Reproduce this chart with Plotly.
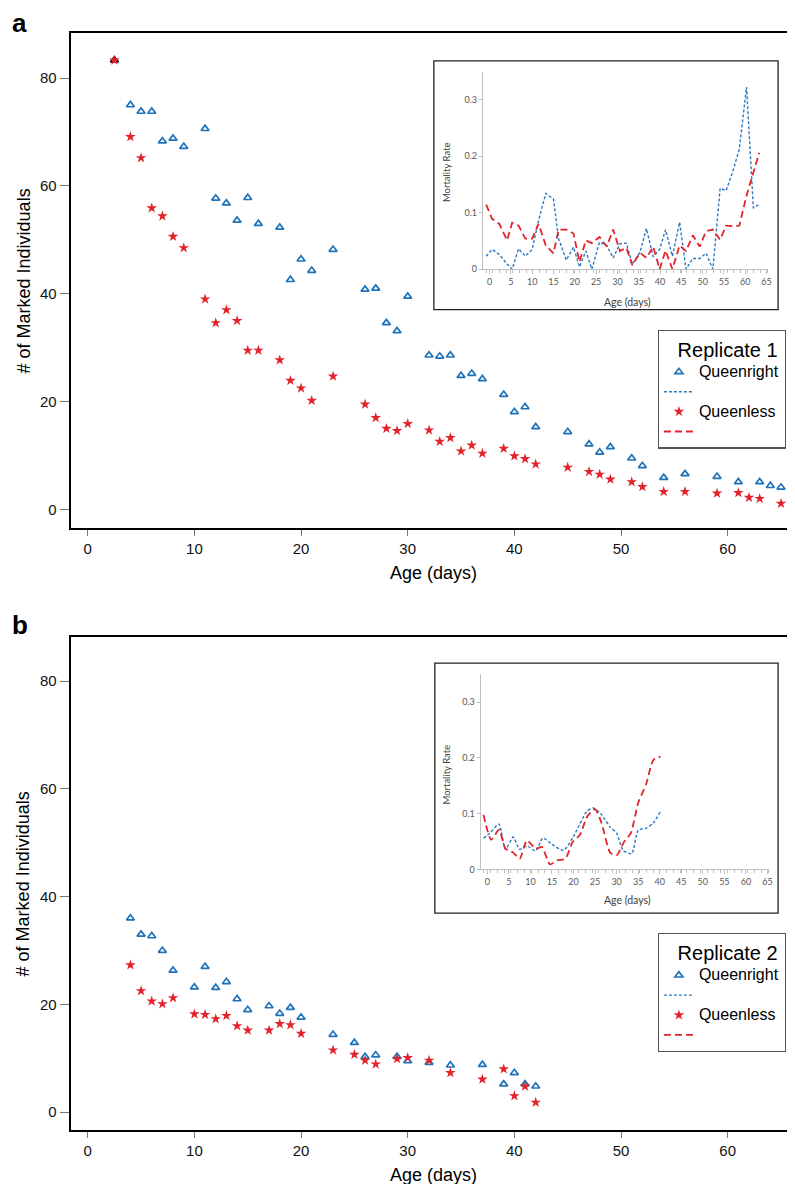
import plotly.graph_objects as go

# ---------------- DATA ----------------
# Panel a (Replicate 1): number of marked individuals by age
qr_a_age = [2.5, 4, 5, 6, 7, 8, 9, 11, 12, 13, 14, 15, 16, 18, 19, 20, 21, 23, 26, 27, 28, 29, 30,
            32, 33, 34, 35, 36, 37, 39, 40, 41, 42, 45, 47, 48, 49, 51, 52, 54, 56, 59, 61, 63, 64, 65]
qr_a_n = [83.3, 75.0, 73.8, 73.8, 68.3, 68.8, 67.3, 70.6, 57.7, 56.8, 53.6, 57.8, 53.0, 52.3, 42.6, 46.4,
          44.3, 48.2, 40.8, 41.0, 34.6, 33.1, 39.5, 28.6, 28.4, 28.6, 24.8, 25.2, 24.2, 21.3, 18.1, 19.0,
          15.3, 14.4, 12.1, 10.6, 11.6, 9.5, 8.1, 5.9, 6.6, 6.1, 5.1, 5.1, 4.4, 4.1]
ql_a_age = [2.5, 4, 5, 6, 7, 8, 9, 11, 12, 13, 14, 15, 16, 18, 19, 20, 21, 23, 26, 27, 28, 29, 30,
            32, 33, 34, 35, 36, 37, 39, 40, 41, 42, 45, 47, 48, 49, 51, 52, 54, 56, 59, 61, 62, 63, 65]
ql_a_n = [83.3, 69.1, 65.2, 55.9, 54.4, 50.6, 48.5, 39.0, 34.6, 37.0, 35.0, 29.5, 29.5, 27.7, 23.9, 22.5,
          20.2, 24.7, 19.5, 17.0, 15.0, 14.6, 15.9, 14.7, 12.6, 13.3, 10.8, 11.9, 10.4, 11.3, 9.9, 9.4,
          8.4, 7.8, 7.0, 6.5, 5.6, 5.1, 4.2, 3.3, 3.3, 3.0, 3.1, 2.2, 2.0, 1.1]

# Panel b (Replicate 2)
qr_b_age = [4, 5, 6, 7, 8, 10, 11, 12, 13, 14, 15, 17, 18, 19, 20, 23, 25, 26, 27, 29, 30, 32, 34, 37, 39, 40, 41, 42]
qr_b_n = [36.0, 33.0, 32.7, 30.0, 26.3, 23.2, 27.0, 23.1, 24.2, 21.0, 19.0, 19.7, 18.3, 19.4, 17.6, 14.4,
          12.9, 10.3, 10.6, 10.3, 9.5, 9.2, 8.7, 8.8, 5.2, 7.3, 5.2, 4.8]
ql_b_age = [4, 5, 6, 7, 8, 10, 11, 12, 13, 14, 15, 17, 18, 19, 20, 23, 25, 26, 27, 29, 30, 32, 34, 37, 39, 40, 41, 42]
ql_b_n = [27.3, 22.5, 20.6, 20.1, 21.2, 18.2, 18.1, 17.3, 17.9, 16.0, 15.2, 15.2, 16.4, 16.2, 14.6, 11.5,
          10.7, 9.6, 8.9, 9.9, 10.1, 9.6, 7.3, 6.1, 8.0, 3.0, 4.8, 1.8]

# Inset a: mortality rate by age
inset_a_age = [-0.8, 0.6, 2.3, 4.1, 5.3, 6.8, 8.4, 10.0, 11.5, 13.2, 15.0, 16.2, 18.0, 19.7, 21.1, 22.6,
               24.0, 25.8, 27.5, 29.0, 30.6, 32.1, 33.5, 35.3, 36.8, 38.4, 39.9, 41.3, 42.9, 44.6, 46.1,
               47.7, 49.3, 50.8, 52.4, 54.1, 55.5, 57.0, 58.6, 60.3, 61.9, 63.3]
inset_a_qr = [0.023, 0.035, 0.026, 0.009, 0.0, 0.036, 0.023, 0.035, 0.086, 0.134, 0.124, 0.054, 0.016,
              0.039, 0.004, 0.032, 0.0, 0.048, 0.042, 0.020, 0.045, 0.046, 0.009, 0.030, 0.072, 0.022,
              0.035, 0.070, 0.023, 0.083, 0.0, 0.019, 0.019, 0.028, 0.0, 0.143, 0.139, 0.171, 0.212,
              0.322, 0.108, 0.115]
inset_a_ql = [0.114, 0.089, 0.080, 0.051, 0.082, 0.077, 0.054, 0.054, 0.080, 0.042, 0.028, 0.070, 0.070,
              0.063, 0.013, 0.051, 0.046, 0.057, 0.040, 0.070, 0.032, 0.038, 0.007, 0.029, 0.020, 0.040,
              0.0, 0.033, 0.0, 0.042, 0.032, 0.060, 0.040, 0.067, 0.070, 0.052, 0.077, 0.076, 0.077,
              0.130, 0.171, 0.206]

# Inset b
inset_b_qr_age = [-0.9, 0.6, 2.7, 4.2, 6.0, 7.5, 9.2, 11.2, 12.9, 15.0, 17.7, 20.0, 23.1, 24.6, 26.5,
                  28.5, 30.0, 31.5, 33.5, 35.0, 36.9, 38.5, 40.2]
inset_b_qr = [0.056, 0.065, 0.081, 0.036, 0.058, 0.036, 0.042, 0.033, 0.056, 0.045, 0.034, 0.059, 0.104,
              0.110, 0.098, 0.076, 0.065, 0.034, 0.028, 0.070, 0.074, 0.083, 0.104]
inset_b_ql_age = [-0.9, 0.9, 2.7, 4.2, 6.0, 7.5, 9.2, 11.2, 12.7, 14.5, 16.2, 18.1, 19.8, 21.5, 23.2,
                  25.0, 26.5, 28.5, 30.0, 31.7, 33.3, 35.0, 36.9, 38.5, 40.2]
inset_b_ql = [0.098, 0.053, 0.071, 0.037, 0.030, 0.019, 0.052, 0.037, 0.040, 0.009, 0.016, 0.019, 0.049,
              0.062, 0.095, 0.108, 0.083, 0.030, 0.025, 0.049, 0.065, 0.119, 0.154, 0.196, 0.202]

main_x_ticks = [0, 10, 20, 30, 40, 50, 60]
main_y_ticks = [0, 20, 40, 60, 80]
inset_x_ticks = [0, 5, 10, 15, 20, 25, 30, 35, 40, 45, 50, 55, 60, 65]
inset_y_ticks = [0, 0.1, 0.2, 0.3]
inset_y_labels = ["0", "0.1", "0.2", "0.3"]

# ---------------- STYLE ----------------
W, H = 795, 1184
BLUE = "#1f72b8"
RED = "#e3232b"
BLUE_LINE = "#2f78c0"
RED_LINE = "#e3232b"
FONT = "Liberation Sans, Arial, Helvetica, sans-serif"
IFONT = "Lato, Open Sans, sans-serif"


def fx(p):
    return p / W


def fy(p):
    return 1 - p / H


def big(t):
    return '<span style="font-size:16px">%s</span>' % t


fig = go.Figure()

tri = dict(symbol="triangle-up-open", size=7, color=BLUE, line=dict(width=1.7, color=BLUE))
star = dict(symbol="star", size=8, color=RED, line=dict(width=0))

# Panel a markers
fig.add_trace(go.Scatter(x=qr_a_age[1:], y=qr_a_n[1:], mode="markers", marker=tri, name=big("Queenright"),
                         xaxis="x", yaxis="y", legend="legend", legendrank=1))
fig.add_trace(go.Scatter(x=qr_a_age[:1], y=qr_a_n[:1], mode="markers",
                         marker=dict(symbol="triangle-up-open", size=7, color="black", line=dict(width=1.7, color="black")),
                         showlegend=False, xaxis="x", yaxis="y"))
fig.add_trace(go.Scatter(x=ql_a_age, y=ql_a_n, mode="markers", marker=star, name=big("Queenless"),
                         xaxis="x", yaxis="y", legend="legend", legendrank=3))

# Panel b markers
fig.add_trace(go.Scatter(x=qr_b_age, y=qr_b_n, mode="markers", marker=tri, name=big("Queenright"),
                         xaxis="x2", yaxis="y2", legend="legend2", legendrank=1))
fig.add_trace(go.Scatter(x=ql_b_age, y=ql_b_n, mode="markers", marker=star, name=big("Queenless"),
                         xaxis="x2", yaxis="y2", legend="legend2", legendrank=3))

# Inset a lines
fig.add_trace(go.Scatter(x=inset_a_age, y=inset_a_qr, mode="lines", name=" ",
                         line=dict(color=BLUE_LINE, width=1.4, dash="3px,2px"),
                         xaxis="x3", yaxis="y3", legend="legend", legendrank=2))
fig.add_trace(go.Scatter(x=inset_a_age, y=inset_a_ql, mode="lines", name="  ",
                         line=dict(color=RED_LINE, width=1.8, dash="7px,4px"),
                         xaxis="x3", yaxis="y3", legend="legend", legendrank=4))
# Inset b lines
fig.add_trace(go.Scatter(x=inset_b_qr_age, y=inset_b_qr, mode="lines", name=" ",
                         line=dict(color=BLUE_LINE, width=1.4, dash="3px,2px", shape="spline", smoothing=0.6),
                         xaxis="x4", yaxis="y4", legend="legend2", legendrank=2))
fig.add_trace(go.Scatter(x=inset_b_ql_age, y=inset_b_ql, mode="lines", name="  ",
                         line=dict(color=RED_LINE, width=1.8, dash="7px,4px", shape="spline", smoothing=0.6),
                         xaxis="x4", yaxis="y4", legend="legend2", legendrank=4))

main_ax = dict(showgrid=False, zeroline=False, showline=True, mirror=True, linecolor="black", linewidth=2,
               ticks="outside", tickwidth=1, tickcolor="#777",
               tickfont=dict(family=FONT, size=15, color="#111"))
xa = dict(main_ax, range=[-1.6, 66.5], tickvals=main_x_ticks, ticklen=6)
ya = dict(main_ax, range=[-3.4, 88.3], tickvals=main_y_ticks, ticklen=9)

inset_x = dict(showgrid=False, zeroline=False, showline=True, linecolor="#c0c0c0", linewidth=1,
               range=[-1.56, 65.3], tickvals=inset_x_ticks, ticks="outside", ticklen=4, tickcolor="#c0c0c0",
               tickfont=dict(family=IFONT, size=9, color="#595959"),
               minor=dict(ticks="outside", ticklen=2.5, tickcolor="#c0c0c0", tick0=-0.8, dtick=1.57))
inset_y = dict(showgrid=False, zeroline=False, showline=True, linecolor="#c0c0c0", linewidth=1,
               range=[0, 0.349], tickvals=inset_y_ticks, ticktext=inset_y_labels, ticks="outside", ticklen=3,
               tickcolor="#c0c0c0", tickfont=dict(family=IFONT, size=9, color="#595959"))

legend_common = dict(bgcolor="white", bordercolor="#555", borderwidth=1.2,
                     font=dict(family=FONT, size=13, color="black"), tracegroupgap=0,
                     xanchor="left", yanchor="top", traceorder="normal", itemwidth=30)

fig.update_layout(
    width=W, height=H, margin=dict(l=0, r=0, t=0, b=0),
    paper_bgcolor="white", plot_bgcolor="white",
    xaxis=dict(xa, domain=[fx(63), fx(793)], anchor="y"),
    yaxis=dict(ya, domain=[fy(522), fy(25.4)], anchor="x"),
    xaxis2=dict(xa, domain=[fx(63), fx(793)], anchor="y2"),
    yaxis2=dict(ya, domain=[fy(1127.2), fy(631.2)], anchor="x2"),
    xaxis3=dict(inset_x, domain=[fx(477.3), fx(763.7)], anchor="y3"),
    yaxis3=dict(inset_y, domain=[fy(262.3), fy(64)], anchor="x3"),
    xaxis4=dict(inset_x, domain=[fx(475), fx(764.6)], anchor="y4"),
    yaxis4=dict(inset_y, range=[0, 0.35], domain=[fy(865), fy(669)], anchor="x4"),
    legend=dict(legend_common, x=fx(653), y=fy(323),
                title=dict(text="\u00a0\u00a0\u00a0Replicate 1", font=dict(family=FONT, size=20, color="black"))),
    legend2=dict(legend_common, x=fx(653), y=fy(929),
                 title=dict(text="\u00a0\u00a0\u00a0Replicate 2", font=dict(family=FONT, size=20, color="black"))),
    showlegend=True,
)

shapes = []
for (x0, y0, x1, y1) in [(428, 53, 774, 303), (429, 658, 774, 909)]:
    shapes.append(dict(type="rect", xref="paper", yref="paper", x0=fx(x0), x1=fx(x1), y0=fy(y1), y1=fy(y0),
                       line=dict(color="#222", width=1.3), fillcolor="white", layer="below"))
fig.update_layout(shapes=shapes)

ann = []
for (lbl, y) in [("a", 15), ("b", 620)]:
    ann.append(dict(text="<b>%s</b>" % lbl, x=fx(2), y=fy(y), xref="paper", yref="paper", xanchor="left",
                    yanchor="middle", showarrow=False, font=dict(family=FONT, size=26, color="black")))
for yc in [(25.4 + 522) / 2, (631.2 + 1127.2) / 2]:
    ann.append(dict(text="# of Marked Individuals", x=fx(16), y=fy(yc), xref="paper", yref="paper",
                    textangle=-90, showarrow=False, xanchor="center", yanchor="middle",
                    font=dict(family=FONT, size=18, color="black")))
for yc in [567, 1172]:
    ann.append(dict(text="Age (days)", x=fx(428), y=fy(yc), xref="paper", yref="paper", showarrow=False,
                    xanchor="center", yanchor="middle", font=dict(family=FONT, size=18, color="black")))
for (my, ay) in [(165, 295), (770, 896)]:
    ann.append(dict(text="Mortality Rate", x=fx(441), y=fy(my), xref="paper", yref="paper", textangle=-90,
                    showarrow=False, xanchor="center", yanchor="middle",
                    font=dict(family=IFONT, size=9.5, color="#404040")))
    ann.append(dict(text="Age (days)", x=fx(623), y=fy(ay), xref="paper", yref="paper", showarrow=False,
                    xanchor="center", yanchor="middle", font=dict(family=IFONT, size=10.5, color="#404040")))
fig.update_layout(annotations=ann)

fig.write_html("out.html")
